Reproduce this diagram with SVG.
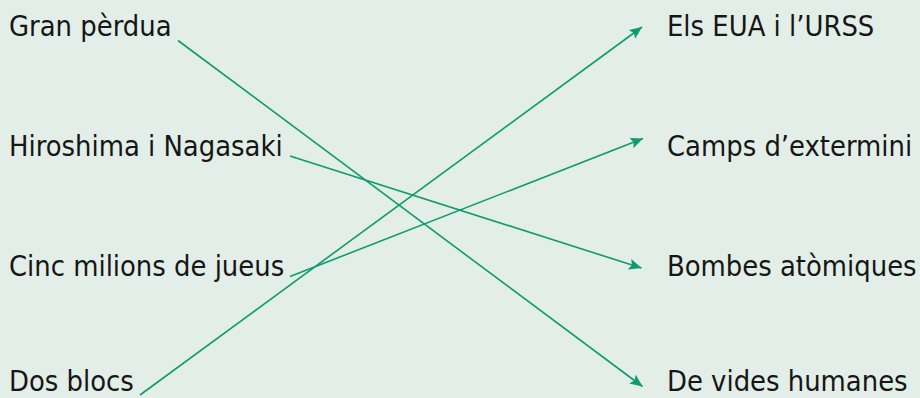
<svg xmlns="http://www.w3.org/2000/svg" width="920" height="398" viewBox="0 0 920 398">
  <style>
    .lbl { font-family: "DejaVu Sans Condensed", "DejaVu Sans", sans-serif; font-size: 28.8px; fill: #161616; }
    .conn { stroke: #0e9b6f; stroke-width: 1.6; fill: none; marker-end: url(#ah); }
  </style>
  <defs>
    <marker id="ah" markerUnits="userSpaceOnUse" markerWidth="13" markerHeight="11" refX="12.5" refY="5.5" orient="auto">
      <path d="M0,0 L12.5,5.5 L0,11 L2.5,5.5 z" fill="#0e9b6f"/>
    </marker>
  </defs>
  <rect width="920" height="398" fill="#e3eee8"/>
  <g id="left-1"><text class="lbl" x="9" y="36">Gran pèrdua</text></g>
  <g id="left-2"><text class="lbl" x="9" y="156">Hiroshima i Nagasaki</text></g>
  <g id="left-3"><text class="lbl" x="9" y="276">Cinc milions de jueus</text></g>
  <g id="left-4"><text class="lbl" x="9" y="391">Dos blocs</text></g>
  <g id="right-1"><text class="lbl" x="667" y="36">Els EUA i l’URSS</text></g>
  <g id="right-2"><text class="lbl" x="667" y="156">Camps d’extermini</text></g>
  <g id="right-3"><text class="lbl" x="667" y="276">Bombes atòmiques</text></g>
  <g id="right-4"><text class="lbl" x="667" y="391">De vides humanes</text></g>
  <g id="connectors">
    <line class="conn" x1="178" y1="40.5" x2="642.5" y2="386.5"/>
    <line class="conn" x1="290" y1="156" x2="641.5" y2="268"/>
    <line class="conn" x1="290" y1="276.5" x2="643" y2="138.5"/>
    <line class="conn" x1="140" y1="395" x2="642" y2="27"/>
  </g>
</svg>
